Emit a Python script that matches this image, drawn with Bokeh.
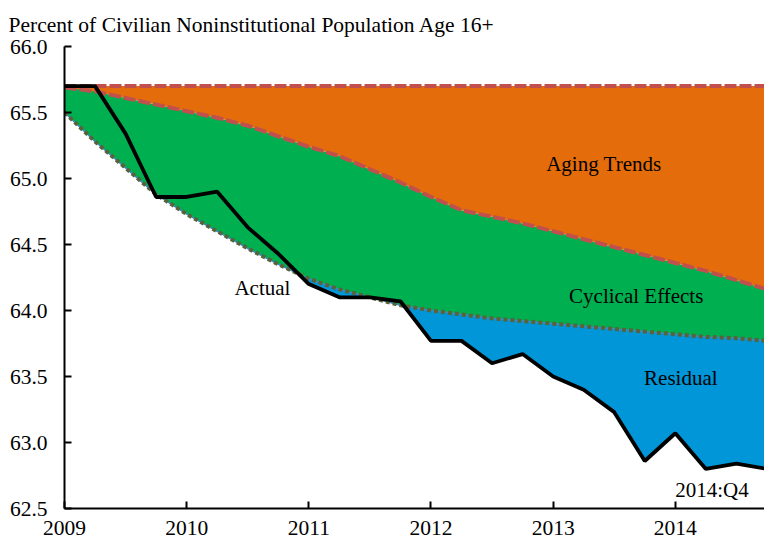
from bokeh.plotting import figure
from bokeh.models import Range1d, FixedTicker, Label, PrintfTickFormatter
from bokeh.embed import file_html
from bokeh.resources import INLINE

# ---- data ----
quarters = [2009.0, 2009.25, 2009.5, 2009.75,
            2010.0, 2010.25, 2010.5, 2010.75,
            2011.0, 2011.25, 2011.5, 2011.75,
            2012.0, 2012.25, 2012.5, 2012.75,
            2013.0, 2013.25, 2013.5, 2013.75,
            2014.0, 2014.25, 2014.5, 2014.75]

pre_recession_rate = 65.7

aging_trend = [65.69, 65.66, 65.61, 65.56,
               65.51, 65.46, 65.40, 65.32,
               65.24, 65.17, 65.07, 64.97,
               64.86, 64.76, 64.71, 64.66,
               64.60, 64.54, 64.48, 64.42,
               64.36, 64.30, 64.23, 64.16]

cyclical_trend = [65.50, 65.28, 65.08, 64.88,
                  64.73, 64.60, 64.47, 64.35,
                  64.24, 64.16, 64.10, 64.04,
                  64.00, 63.97, 63.94, 63.92,
                  63.90, 63.88, 63.86, 63.84,
                  63.82, 63.80, 63.79, 63.77]

actual = [65.70, 65.70, 65.34, 64.86,
          64.86, 64.90, 64.63, 64.43,
          64.20, 64.10, 64.10, 64.07,
          63.77, 63.77, 63.60, 63.67,
          63.50, 63.40, 63.23, 62.86,
          63.07, 62.80, 62.84, 62.80]

y_ticks = [62.5, 63.0, 63.5, 64.0, 64.5, 65.0, 65.5, 66.0]
x_ticks = [2009, 2010, 2011, 2012, 2013, 2014]
x_tick_labels = ["2009", "2010", "2011", "2012", "2013", "2014"]

subtitle = "Percent of Civilian Noninstitutional Population Age 16+"

# ---- styles ----
ORANGE = "#E46C0A"
GREEN = "#00B050"
BLUE = "#0096D7"
RED = "#C0504D"
OLIVE = "#58633A"
FONT = "Liberation Serif"

p = figure(width=764, height=540, output_backend="svg", toolbar_location=None,
           x_range=Range1d(2009, 2014.73), y_range=Range1d(62.5, 66.0),
           min_border_left=64, min_border_right=0, min_border_top=46,
           min_border_bottom=32)
p.outline_line_color = None
p.xgrid.visible = False
p.ygrid.visible = False
p.background_fill_color = "white"

# title used as the subtitle line
p.title.text = subtitle
p.title.text_font = FONT
p.title.text_font_size = "21.5px"
p.title.text_font_style = "normal"
p.title.text_color = "black"
p.title.align = "left"
p.title.offset = -56
p.title.standoff = 19

# areas
p.varea(x=quarters, y1=actual, y2=cyclical_trend, fill_color=BLUE)
p.varea(x=quarters, y1=cyclical_trend, y2=aging_trend, fill_color=GREEN)
p.varea(x=quarters, y1=aging_trend, y2=pre_recession_rate, fill_color=ORANGE)

# boundary lines
p.line(x=[quarters[0], quarters[-1]], y=[pre_recession_rate, pre_recession_rate],
       line_color=RED, line_width=4, line_dash="12 3")
p.line(x=quarters, y=aging_trend, line_color=RED, line_width=4, line_dash="12 3")
p.line(x=quarters, y=cyclical_trend, line_color="#3F86C0", line_width=1.5)
p.line(x=quarters, y=cyclical_trend, line_color=OLIVE, line_width=4, line_dash="4 3")
p.line(x=quarters, y=actual, line_color="black", line_width=3.8)

# labels
lab_kw = dict(text_font=FONT, text_font_size="21px", text_color="black",
              text_align="center", text_baseline="middle")
p.add_layout(Label(x=2013.415, y=65.11, text="Aging Trends", **lab_kw))
p.add_layout(Label(x=2013.68, y=64.11, text="Cyclical Effects", **lab_kw))
p.add_layout(Label(x=2014.045, y=63.485, text="Residual", **lab_kw))
p.add_layout(Label(x=2010.62, y=64.17, text="Actual", **lab_kw))
p.add_layout(Label(x=2014.30, y=62.64, text="2014:Q4", **lab_kw))

# axes
for ax in (p.xaxis[0], p.yaxis[0]):
    ax.axis_line_color = "black"
    ax.axis_line_width = 2
    ax.major_tick_line_color = "black"
    ax.major_tick_line_width = 2
    ax.major_tick_in = 7
    ax.major_tick_out = 0
    ax.minor_tick_line_color = None
    ax.major_label_text_font = FONT
    ax.major_label_text_font_size = "21.5px"
    ax.major_label_text_color = "black"

p.yaxis[0].ticker = FixedTicker(ticks=y_ticks)
p.yaxis[0].formatter = PrintfTickFormatter(format="%.1f")
p.yaxis[0].major_label_standoff = 17

p.xaxis[0].ticker = FixedTicker(ticks=x_ticks)
p.xaxis[0].major_label_overrides = {t: s for t, s in zip(x_ticks, x_tick_labels)}
p.xaxis[0].major_label_standoff = 12

open("out.html", "w").write(file_html(p, INLINE))
